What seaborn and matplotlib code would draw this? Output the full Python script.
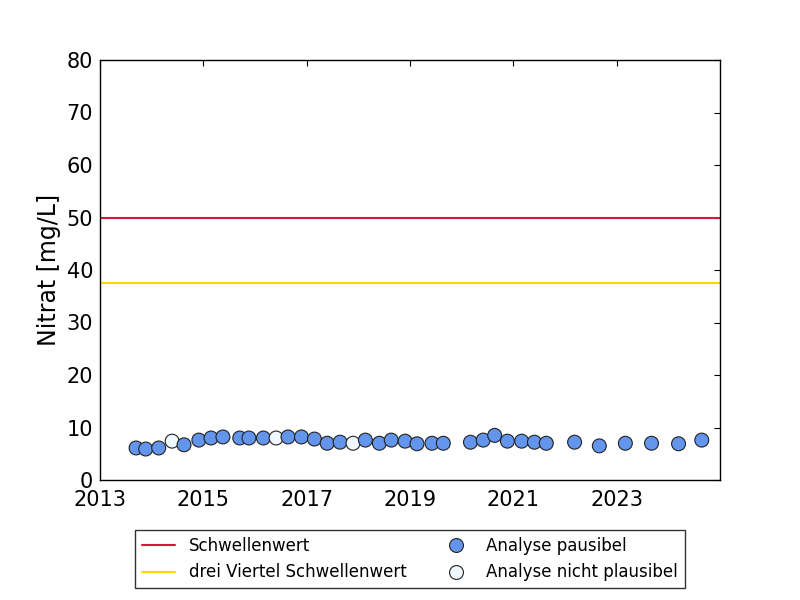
import pandas as pd
import seaborn as sns
import matplotlib
matplotlib.use("Agg")
import matplotlib.pyplot as plt
import matplotlib.dates as mdates
from matplotlib.lines import Line2D

dates = ["2013-09-13", "2013-11-20", "2014-02-20", "2014-05-26", "2014-08-18",
         "2014-12-01", "2015-02-25", "2015-05-20", "2015-09-16", "2015-11-20",
         "2016-03-01", "2016-05-30", "2016-08-22", "2016-11-25", "2017-02-25",
         "2017-05-26", "2017-08-25", "2017-11-25", "2018-02-20", "2018-05-30",
         "2018-08-22", "2018-11-28", "2019-02-20", "2019-06-06", "2019-08-25",
         "2020-03-04", "2020-06-02", "2020-08-22", "2020-11-20", "2021-03-01",
         "2021-05-30", "2021-08-22", "2022-03-10", "2022-09-01", "2023-03-04",
         "2023-09-05", "2024-03-14", "2024-08-25"]
nitrat = [6.1, 5.9, 6.1, 7.4, 6.7, 7.6, 8.0, 8.2, 8.0, 8.0,
          8.0, 8.0, 8.2, 8.2, 7.8, 7.0, 7.2, 7.0, 7.6, 7.0,
          7.6, 7.4, 6.9, 7.0, 7.0, 7.2, 7.6, 8.5, 7.4, 7.4,
          7.2, 7.0, 7.2, 6.5, 7.0, 7.0, 6.9, 7.6]
plausibel = [True, True, True, False, True, True, True, True, True, True,
             True, False, True, True, True, True, True, False, True, True,
             True, True, True, True, True, True, True, True, True, True,
             True, True, True, True, True, True, True, True]
jahre = [2013, 2015, 2017, 2019, 2021, 2023]
schwelle = 50
drei_viertel = 37.5

df = pd.DataFrame({"datum": pd.to_datetime(dates), "nitrat": nitrat,
                   "status": ["Analyse pausibel" if p else "Analyse nicht plausibel" for p in plausibel]})

sns.set_style("white")
plt.rcParams["font.family"] = ["DejaVu Sans"]
plt.rcParams["text.color"] = "black"
plt.rcParams["xtick.color"] = "black"
plt.rcParams["ytick.color"] = "black"
plt.rcParams["axes.labelcolor"] = "black"

fig = plt.figure(figsize=(8, 6), dpi=100)
ax = fig.add_axes([0.125, 0.2, 0.775, 0.7])

ax.axhline(schwelle, color="crimson", lw=1.5, zorder=1)
ax.axhline(drei_viertel, color="gold", lw=1.5, zorder=1)

sns.scatterplot(data=df, x="datum", y="nitrat", hue="status",
                palette={"Analyse pausibel": "cornflowerblue", "Analyse nicht plausibel": "aliceblue"},
                s=100, edgecolor="#222222", linewidth=0.8, legend=False, zorder=3, ax=ax)

ax.set_xlim(pd.Timestamp("2013-01-01"), pd.Timestamp("2025-01-01"))
ax.set_ylim(0, 80)
ax.set_xticks([pd.Timestamp(f"{j}-01-01") for j in jahre])
ax.xaxis.set_major_formatter(mdates.DateFormatter("%Y"))
ax.set_yticks(range(0, 81, 10))
ax.set_xlabel("")
ax.set_ylabel("Nitrat [mg/L]", fontsize=17)
ax.tick_params(direction="in", top=True, right=True, length=4, width=0.8, labelsize=15)
ax.tick_params(axis="x", pad=7)
ax.tick_params(axis="y", pad=5)
for sp in ax.spines.values():
    sp.set_color("black")
    sp.set_linewidth(1)

handles = [Line2D([], [], color="crimson", lw=1.5),
           Line2D([], [], color="gold", lw=1.5),
           Line2D([], [], ls="", marker="o", markersize=10, markerfacecolor="cornflowerblue", markeredgecolor="#222222", markeredgewidth=0.8),
           Line2D([], [], ls="", marker="o", markersize=10, markerfacecolor="aliceblue", markeredgecolor="#222222", markeredgewidth=0.8)]
labels = ["Schwellenwert", "drei Viertel Schwellenwert", "Analyse pausibel", "Analyse nicht plausibel"]
leg = fig.legend(handles, labels, ncol=2, loc="center", bbox_to_anchor=(0.5125, 0.068),
                 fontsize=12, frameon=True, fancybox=False, edgecolor="black",
                 columnspacing=2.0, handlelength=2.0, borderpad=0.4)
leg.get_frame().set_linewidth(1)

fig.savefig("out.png", dpi=100, facecolor="white")
